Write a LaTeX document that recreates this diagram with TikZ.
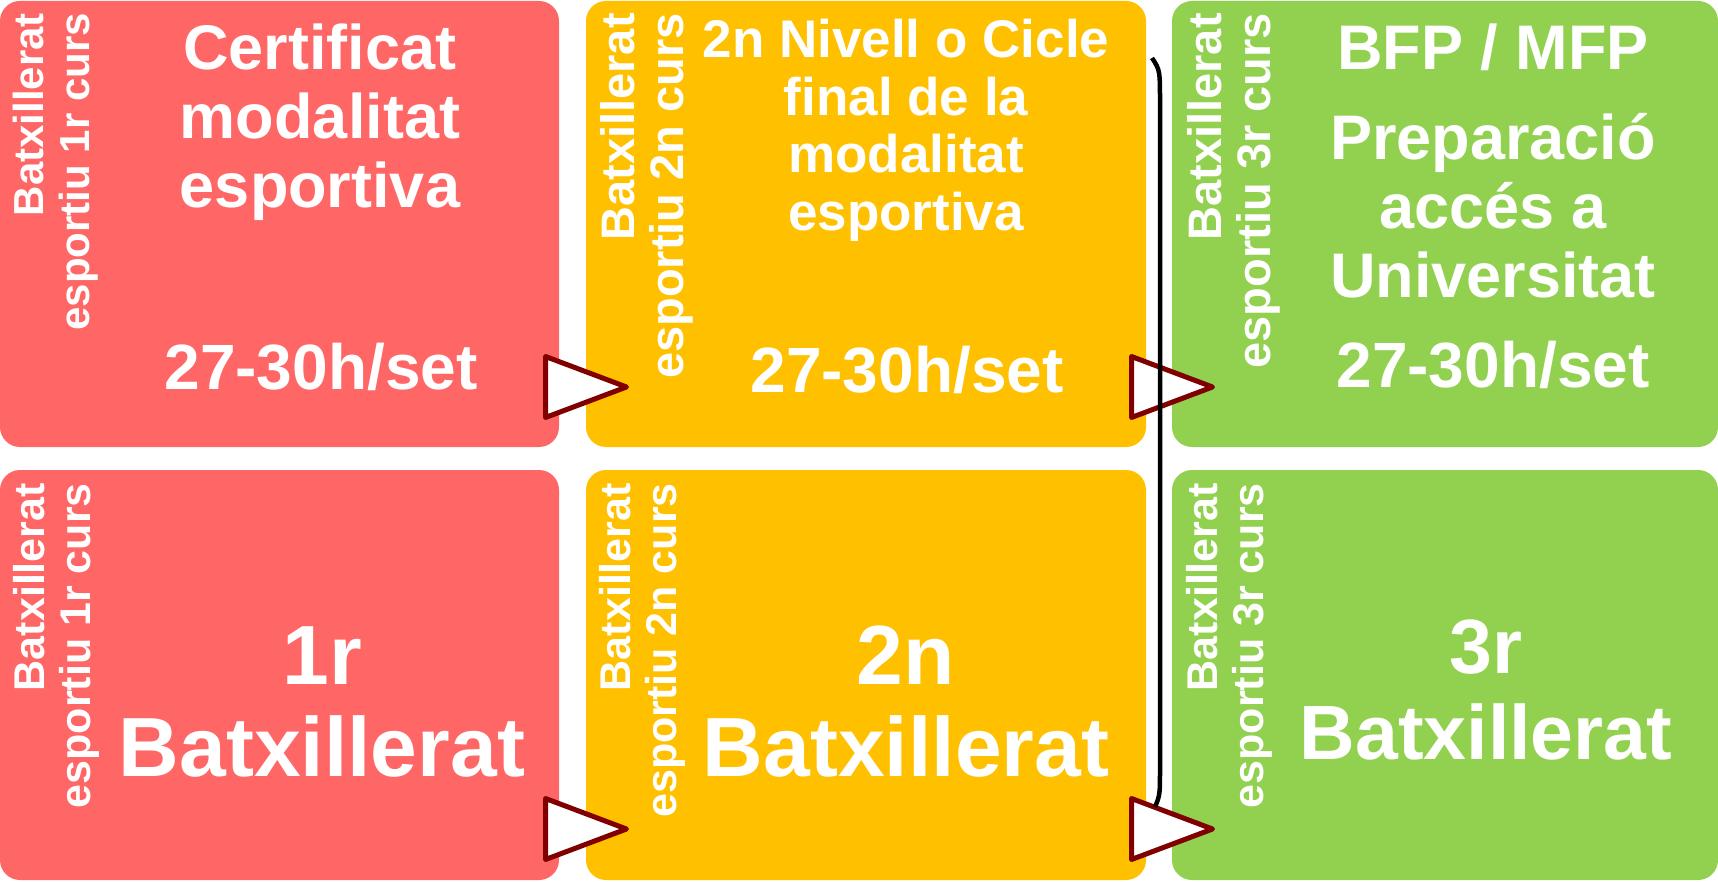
\documentclass[tikz,border=0pt]{standalone}
\usepackage{fontspec}
\setmainfont{Liberation Sans}
\usetikzlibrary{shapes.geometric}

\definecolor{boxred}{HTML}{FF6666}
\definecolor{boxyellow}{HTML}{FFC000}
\definecolor{boxgreen}{HTML}{92D050}
\definecolor{tipred}{HTML}{800000}

\begin{document}
\begin{tikzpicture}[x=1pt,y=-1pt,
    box/.style={rectangle,rounded corners=20pt,anchor=north west,inner sep=0,outer sep=0},
    tri/.style={isosceles triangle,isosceles triangle stretches,minimum width=61,minimum height=81,
        inner sep=0,outer sep=0,fill=white,draw=tipred,line width=5pt,line join=round,anchor=apex},
    side/.style={rotate=90,anchor=north east,align=right,inner sep=0,text=white},
    main/.style={anchor=base,align=center,inner sep=0,text=white}]
    \useasboundingbox (0,0) rectangle (1718,882);

    % top row
    \node[box,fill=boxred,minimum width=559,minimum height=446] (r1) at (0,1) {};
    \node[box,fill=boxyellow,minimum width=560,minimum height=446] (y1) at (586,1) {};
    \node[box,fill=boxgreen,minimum width=546,minimum height=446] (g1) at (1172,1) {};
    % bottom row
    \node[box,fill=boxred,minimum width=559,minimum height=410] (r2) at (0,470) {};
    \node[box,fill=boxyellow,minimum width=560,minimum height=410] (y2) at (586,470) {};
    \node[box,fill=boxgreen,minimum width=546,minimum height=410] (g2) at (1172,470) {};

    \node[side,font=\bfseries\fontsize{42}{46}\selectfont] (r1s) at (13,13) {Batxillerat\\esportiu 1r curs};
    \node[side,font=\bfseries\fontsize{47}{49}\selectfont] (y1s) at (600,13) {Batxillerat\\esportiu 2n curs};
    \node[side,font=\bfseries\fontsize{47}{49}\selectfont] (g1s) at (1187,13) {Batxillerat\\esportiu 3r curs};
    \node[side,font=\bfseries\fontsize{43}{46}\selectfont] (r2s) at (13,483) {Batxillerat\\esportiu 1r curs};
    \node[side,font=\bfseries\fontsize{43}{46}\selectfont] (y2s) at (599,483) {Batxillerat\\esportiu 2n curs};
    \node[side,font=\bfseries\fontsize{43}{46}\selectfont] (g2s) at (1186,483) {Batxillerat\\esportiu 3r curs};

    % base = last line
    \node[main,font=\bfseries\fontsize{63}{69}\selectfont] (r1t) at (320,208) {Certificat\\modalitat\\esportiva};
    \node[main,font=\bfseries\fontsize{64}{69}\selectfont] (r1h) at (321,389) {27-30h/set};
    \node[main,font=\bfseries\fontsize{53}{57.5}\selectfont] (y1t) at (906,230.5) {2n Nivell o Cicle\\final de la\\modalitat\\esportiva};
    \node[main,font=\bfseries\fontsize{64}{69}\selectfont] (y1h) at (907,392) {27-30h/set};
    \node[main,font=\bfseries\fontsize{63}{69}\selectfont] (g1t) at (1493,298) {BFP / MFP\\[21pt]Preparació\\accés a\\Universitat};
    \node[main,font=\bfseries\fontsize{64}{69}\selectfont] (g1h) at (1493,388) {27-30h/set};
    \node[main,font=\bfseries\fontsize{84}{92}\selectfont] (r2t) at (322,776) {1r\\Batxillerat};
    \node[main,font=\bfseries\fontsize{84}{92}\selectfont] (y2t) at (906,776) {2n\\Batxillerat};
    \node[main,font=\bfseries\fontsize{77}{86}\selectfont] (g2t) at (1486,759) {3r\\Batxillerat};

    % arrow heads between the boxes
    \node[tri] (a1) at (626.5,387) {};
    \node[tri] (a2) at (626.5,829) {};
    \node[tri] (a3) at (1212.5,387) {};
    \node[tri] (a4) at (1212.5,829) {};

    \coordinate (lt) at (1152,58);
    \coordinate (lb) at (1155,807);
    \draw[line width=4.5pt] (lt) .. controls (1160,70) .. (1160,105) -- (1160,765) .. controls (1160,795) .. (lb);
\end{tikzpicture}
\end{document}
